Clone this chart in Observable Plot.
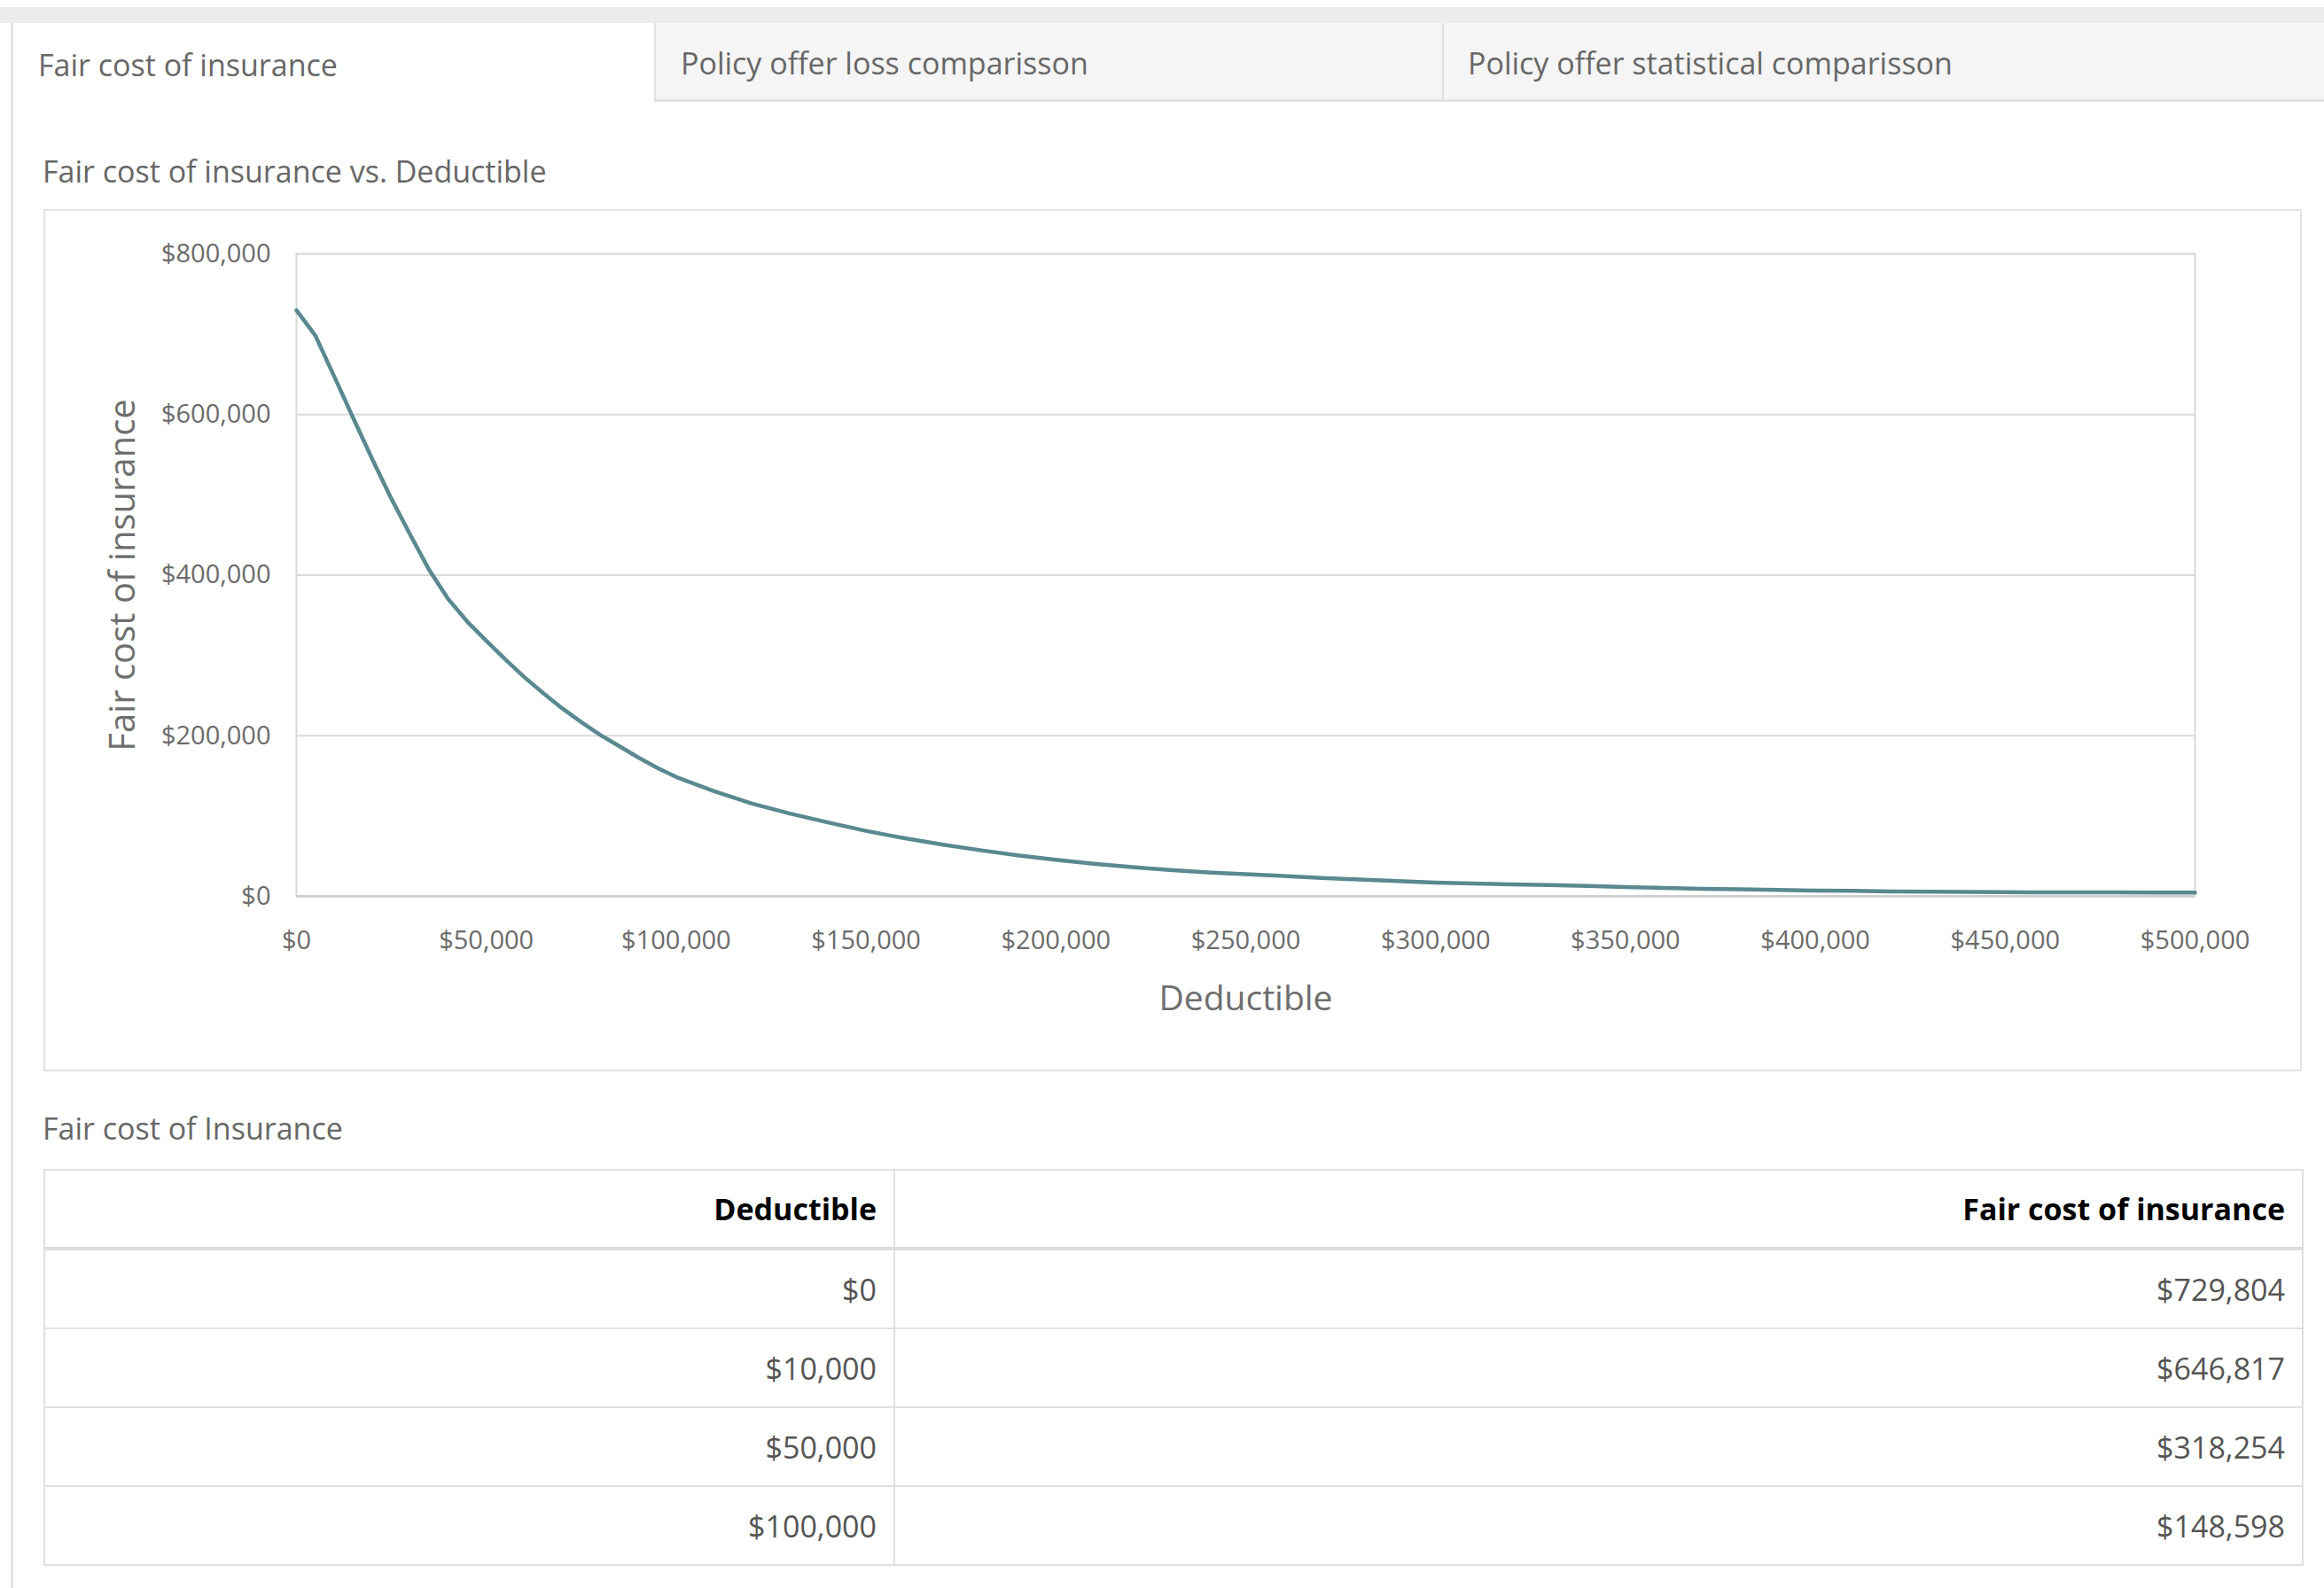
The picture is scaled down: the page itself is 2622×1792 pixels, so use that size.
<!DOCTYPE html>
<html>
<head>
<meta charset="utf-8">
<script src="https://cdn.jsdelivr.net/npm/d3@7"></script>
<script src="https://cdn.jsdelivr.net/npm/@observablehq/plot@0.6"></script>
<style>
  html, body { margin: 0; padding: 0; background: #ffffff; }
  body { width: 2622px; height: 1792px; position: relative; overflow: hidden; font-family: "Open Sans", sans-serif; }
  .band { position: absolute; left: 0; top: 8px; width: 2622px; height: 18px; background: #ececec; }
  .edge { position: absolute; left: 12px; top: 26px; width: 3px; height: 1766px; background: #e4e4e4; }
  .tab { position: absolute; top: 26px; height: 86px; background: #f5f5f5; border-left: 2px solid #e2e2e2; border-bottom: 3px solid #e4e4e4; }
  .label { position: absolute; font-size: 34px; line-height: 34px; color: #676767; white-space: nowrap; }
  #panel { position: absolute; left: 49px; top: 236px; width: 2548px; height: 973px; border: 2px solid #e2e2e2; box-sizing: border-box; }
  #panel svg { display: block; }
  table { position: absolute; left: 49px; top: 1319px; width: 2548px; border-collapse: collapse; font-size: 34px; table-layout: fixed; }
  td, th { border: 2px solid #e0e0e0; text-align: right; padding: 0 19px 0 0; white-space: nowrap; }
  th { height: 86px; font-weight: 700; color: #000; border-bottom: 4px solid #dcdcdc; }
  td { height: 87px; color: #555; }
</style>
</head>
<body>
<div class="band"></div>
<div class="tab" style="left:738px;width:887px;"></div>
<div class="tab" style="left:1627px;width:995px;"></div>
<div class="edge"></div>
<div class="label" id="tab1" style="left:43px;top:56px;"></div>
<div class="label" id="tab2" style="left:768px;top:54px;"></div>
<div class="label" id="tab3" style="left:1656px;top:54px;"></div>
<div class="label" id="chartTitle" style="left:48px;top:176px;"></div>
<div id="panel"></div>
<div class="label" id="tableTitle" style="left:48px;top:1256px;"></div>
<table id="costTable">
  <colgroup><col style="width:959px"><col style="width:1589px"></colgroup>
  <thead><tr id="headRow"></tr></thead>
  <tbody id="bodyRows"></tbody>
</table>
<script>
// Tab captions and headings
const tabNames = ["Fair cost of insurance", "Policy offer loss comparisson", "Policy offer statistical comparisson"];
const chartTitle = "Fair cost of insurance vs. Deductible";
const tableTitle = "Fair cost of Insurance";
const xTitle = "Deductible";
const yTitle = "Fair cost of insurance";

// Deductible levels (USD) and the fair cost of insurance at each level (USD)
const deductibles = [
  0, 5000, 10000, 15000, 20000, 25000, 30000, 35000, 40000, 45000,
  50000, 55000, 60000, 65000, 70000, 75000, 80000, 85000, 90000, 95000,
  100000, 110000, 120000, 130000, 140000, 150000, 160000, 170000, 180000, 190000,
  200000, 210000, 220000, 230000, 240000, 250000, 260000, 270000, 280000, 290000,
  300000, 310000, 320000, 330000, 340000, 350000, 360000, 370000, 380000, 390000,
  400000, 410000, 420000, 430000, 440000, 450000, 460000, 470000, 480000, 490000,
  500000
];
const fairCosts = [
  729804, 698000, 646817, 595000, 544000, 495000, 450000, 406000, 370000, 342000,
  318254, 295000, 273000, 253000, 234000, 217000, 201000, 187000, 173000, 160000,
  148598, 131000, 115500, 103000, 92000, 81500, 72500, 64500, 57500, 51000,
  45500, 40500, 36500, 32800, 29800, 27500, 25300, 23000, 21000, 19000,
  17200, 16000, 15000, 14000, 13000, 11600, 10500, 9500, 8700, 7900,
  7300, 6800, 6200, 5700, 5400, 5200, 5000, 4900, 4850, 4800,
  4800
];

// Axis ticks
const xTicks = [0, 50000, 100000, 150000, 200000, 250000, 300000, 350000, 400000, 450000, 500000];
const yTicks = [0, 200000, 400000, 600000, 800000];

// Rows listed in the summary table
const tableDeductibles = [0, 10000, 50000, 100000];
const tableHeaders = ["Deductible", "Fair cost of insurance"];

const money = d => "$" + d3.format(",")(d);
const series = deductibles.map((d, i) => ({deductible: d, cost: fairCosts[i]}));

tabNames.forEach((t, i) => document.getElementById("tab" + (i + 1)).textContent = t);
document.getElementById("chartTitle").textContent = chartTitle;
document.getElementById("tableTitle").textContent = tableTitle;

const chart = Plot.plot({
  width: 2544,
  height: 969,
  marginLeft: 283,
  marginRight: 119,
  marginTop: 48,
  marginBottom: 196,
  style: {fontFamily: "'Open Sans', sans-serif", fontSize: "29px", color: "#6b6b6b", background: "transparent", overflow: "visible"},
  x: {type: "linear", domain: [0, 500000]},
  y: {type: "linear", domain: [0, 800000]},
  marks: [
    Plot.gridY(yTicks, {stroke: "#dadada", strokeOpacity: 1, strokeWidth: 2}),
    Plot.frame({stroke: "#dadada", strokeWidth: 2}),
    Plot.ruleY([0], {stroke: "#d0d0d0", strokeWidth: 3}),
    Plot.axisX({ticks: xTicks, tickFormat: money, tickSize: 0, tickPadding: 39, label: null, fill: "#6b6b6b"}),
    Plot.axisY({ticks: yTicks, tickFormat: money, tickSize: 0, tickPadding: 29, label: null, fill: "#6b6b6b"}),
    Plot.line(series, {x: "deductible", y: "cost", stroke: "#5a8990", strokeWidth: 4.5, strokeLinejoin: "round"}),
    Plot.text([xTitle], {text: d => d, frameAnchor: "bottom", textAnchor: "middle", lineAnchor: "middle", dy: 116, fontSize: 39, fill: "#6e6e6e"}),
    Plot.text([yTitle], {text: d => d, frameAnchor: "left", textAnchor: "middle", lineAnchor: "middle", dx: -195, rotate: -90, fontSize: 40, fill: "#6e6e6e"})
  ]
});
document.getElementById("panel").append(chart);

// Summary table built from the same series
const head = document.getElementById("headRow");
tableHeaders.forEach(h => { const th = document.createElement("th"); th.textContent = h; head.append(th); });
const body = document.getElementById("bodyRows");
tableDeductibles.forEach(d => {
  const tr = document.createElement("tr");
  const cost = fairCosts[deductibles.indexOf(d)];
  [money(d), money(cost)].forEach(v => { const td = document.createElement("td"); td.textContent = v; tr.append(td); });
  body.append(tr);
});
</script>
</body>
</html>
